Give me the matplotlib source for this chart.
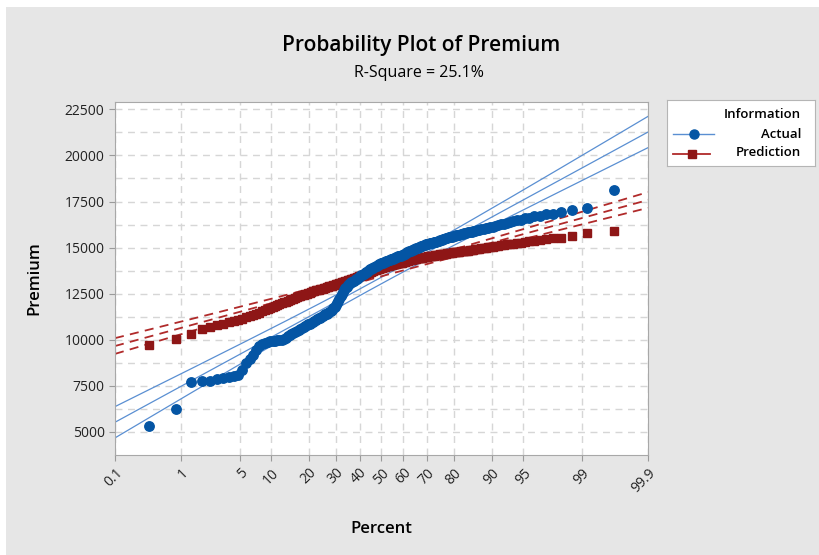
"""Normal probability plot of Premium: actual vs prediction."""
from statistics import NormalDist

import numpy as np
import matplotlib
matplotlib.use("Agg")
import matplotlib.pyplot as plt
from matplotlib.patches import Rectangle

# data, sorted ascending (200 points per series)
actual = [
    5340, 6270, 7720, 7740, 7770, 7870, 7920, 7980, 8030, 8080,
    8380, 8720, 8950, 9170, 9420, 9650, 9760, 9850, 9890, 9920,
    9940, 9950, 9970, 9980, 10000, 10060, 10120, 10180, 10240, 10300,
    10350, 10410, 10460, 10520, 10570, 10620, 10680, 10730, 10780, 10830,
    10880, 10930, 10980, 11030, 11080, 11120, 11160, 11200, 11240, 11280,
    11330, 11380, 11420, 11470, 11520, 11570, 11630, 11700, 11790, 11880,
    11990, 12100, 12220, 12350, 12480, 12600, 12700, 12800, 12880, 12950,
    13010, 13070, 13120, 13160, 13200, 13240, 13280, 13320, 13360, 13400,
    13440, 13490, 13530, 13580, 13620, 13660, 13700, 13740, 13780, 13820,
    13850, 13890, 13920, 13960, 13990, 14020, 14050, 14090, 14120, 14150,
    14170, 14190, 14220, 14240, 14260, 14290, 14310, 14330, 14360, 14380,
    14400, 14430, 14450, 14480, 14500, 14520, 14550, 14570, 14600, 14620,
    14650, 14680, 14710, 14740, 14770, 14800, 14830, 14860, 14890, 14920,
    14950, 14970, 15000, 15020, 15050, 15070, 15100, 15120, 15150, 15170,
    15190, 15210, 15230, 15250, 15270, 15290, 15310, 15330, 15350, 15370,
    15400, 15420, 15450, 15470, 15500, 15520, 15550, 15570, 15600, 15620,
    15640, 15660, 15690, 15710, 15730, 15760, 15780, 15800, 15830, 15850,
    15870, 15900, 15920, 15950, 15970, 16000, 16020, 16050, 16070, 16100,
    16140, 16180, 16220, 16260, 16300, 16340, 16390, 16430, 16480, 16520,
    16580, 16630, 16690, 16740, 16800, 16850, 16940, 17060, 17150, 18150,
]
prediction = [
    9720, 10030, 10290, 10560, 10690, 10780, 10860, 10940, 11010, 11080,
    11150, 11220, 11290, 11360, 11420, 11480, 11540, 11600, 11670, 11740,
    11790, 11840, 11890, 11940, 11990, 12030, 12070, 12120, 12160, 12200,
    12240, 12280, 12320, 12350, 12390, 12420, 12450, 12480, 12500, 12530,
    12560, 12590, 12620, 12650, 12680, 12700, 12720, 12740, 12760, 12780,
    12800, 12830, 12850, 12880, 12900, 12920, 12940, 12960, 12980, 13000,
    13020, 13040, 13070, 13090, 13110, 13130, 13160, 13180, 13210, 13230,
    13250, 13270, 13290, 13310, 13330, 13350, 13370, 13400, 13420, 13440,
    13460, 13480, 13500, 13530, 13550, 13570, 13600, 13630, 13650, 13680,
    13700, 13730, 13750, 13780, 13800, 13820, 13840, 13860, 13880, 13900,
    13920, 13940, 13960, 13970, 13990, 14010, 14030, 14040, 14060, 14080,
    14090, 14100, 14120, 14130, 14140, 14150, 14160, 14180, 14190, 14210,
    14230, 14240, 14260, 14280, 14300, 14310, 14330, 14350, 14360, 14380,
    14390, 14400, 14420, 14430, 14440, 14450, 14460, 14480, 14490, 14500,
    14510, 14520, 14540, 14550, 14560, 14570, 14580, 14600, 14610, 14620,
    14630, 14640, 14660, 14670, 14680, 14690, 14700, 14720, 14730, 14740,
    14750, 14760, 14770, 14780, 14790, 14800, 14810, 14830, 14840, 14850,
    14870, 14890, 14910, 14930, 14950, 14970, 14990, 15000, 15020, 15040,
    15060, 15080, 15110, 15130, 15150, 15170, 15200, 15220, 15250, 15270,
    15310, 15340, 15380, 15420, 15460, 15500, 15540, 15630, 15800, 15900,
]
percent_ticks = [0.1, 1, 5, 10, 20, 30, 40, 50, 60, 70, 80, 90, 95, 99, 99.9]
percent_labels = ["0.1", "1", "5", "10", "20", "30", "40", "50", "60", "70",
                  "80", "90", "95", "99", "99.9"]
premium_ticks = [5000, 7500, 10000, 12500, 15000, 17500, 20000, 22500]
series_names = ["Actual", "Prediction"]

BLUE = "#0455a4"
BLUE_LINE = "#5a8fd2"
RED = "#8e1616"
RED_LINE = "#b02a2a"
BG = "#e6e6e6"

nd = NormalDist()


def pct_to_z(p):
    arr = np.asarray(p, dtype=float)
    flat = np.clip(arr.ravel() / 100.0, 1e-9, 1 - 1e-9)
    return np.array([nd.inv_cdf(v) for v in flat]).reshape(arr.shape)


def z_to_pct(z):
    arr = np.asarray(z, dtype=float)
    return np.array([nd.cdf(v) * 100.0 for v in arr.ravel()]).reshape(arr.shape)


def plot_positions(n):
    # median ranks (Benard)
    return np.array([(i - 0.3) / (n + 0.4) * 100 for i in range(1, n + 1)])


plt.rcParams["font.family"] = ["Open Sans", "DejaVu Sans"]
fig = plt.figure(figsize=(8.2, 5.55), dpi=100)
fig.patch.set_facecolor("white")
fig.add_artist(Rectangle((6 / 820, 0), 1, 1 - 7 / 555, transform=fig.transFigure,
                         facecolor=BG, edgecolor="none", zorder=-5))

ax = fig.add_axes([115 / 820, 1 - 455 / 555, 533 / 820, 353 / 555])
ax.set_xscale("function", functions=(pct_to_z, z_to_pct))
ax.set_xlim(0.1, 99.9)
ax.set_ylim(3750, 22900)

# fitted lines with 95% confidence bands
zline = np.linspace(pct_to_z(0.1), pct_to_z(99.9), 200)
pline = z_to_pct(zline)
for data, col, ls in [(actual, BLUE_LINE, "-"), (prediction, RED_LINE, (0, (5, 3.5)))]:
    d = np.array(data, dtype=float)
    mu, sd, n = d.mean(), d.std(), len(d)
    fit = mu + zline * sd
    half = 1.96 * sd / np.sqrt(n) * np.sqrt(1 + zline ** 2 / 2)
    lw = 0.9 if ls == "-" else 1.3
    for yy in (fit - half, fit, fit + half):
        ax.plot(pline, yy, color=col, lw=lw, linestyle=ls, zorder=2)

ax.plot(plot_positions(len(prediction)), prediction, "s", color=RED, ms=6.4,
        mec=RED, zorder=3)
ax.plot(plot_positions(len(actual)), actual, "o", color=BLUE, ms=6.8,
        mec=BLUE, zorder=4)

ax.set_xticks(percent_ticks)
ax.set_xticklabels(percent_labels, rotation=45, ha="right", rotation_mode="anchor")
ax.xaxis.set_minor_locator(matplotlib.ticker.NullLocator())
ax.set_yticks(premium_ticks)
ax.set_yticks(np.arange(6250, 22500, 2500), minor=True)
ax.tick_params(axis="y", which="minor", length=0)
ax.tick_params(axis="both", which="major", length=4, color="#9a9a9a",
               labelsize=10, labelcolor="#222222")
ax.grid(True, which="both", axis="y", color="#d6d6d6", lw=1, linestyle=(0, (5, 4)))
ax.grid(True, which="major", axis="x", color="#d6d6d6", lw=1, linestyle=(0, (5, 4)))
ax.set_axisbelow(True)
for s in ax.spines.values():
    s.set_color("#a8a8a8")

ax.set_xlabel("Percent", fontsize=12, fontweight="semibold")
ax.set_ylabel("Premium", fontsize=12, fontweight="semibold")
ax.xaxis.set_label_coords(0.5, -0.187)
ax.yaxis.set_label_coords(-0.137, 0.5)

fig.text(421 / 820, 1 - 45 / 555, "Probability Plot of Premium", ha="center",
         va="center", fontsize=15, fontweight="semibold")
fig.text(419 / 820, 1 - 73 / 555, "R-Square = 25.1%", ha="center", va="center",
         fontsize=11.5)

# legend box drawn by hand so the labels sit right-aligned like the original
lax = fig.add_axes([667 / 820, 1 - 166 / 555, 148 / 820, 66 / 555])
lax.set_xlim(667, 815)
lax.set_ylim(166, 100)
lax.set_xticks([])
lax.set_yticks([])
for s in lax.spines.values():
    s.set_color("#b5b5b5")
lax.text(801, 114, "Information", ha="right", va="center", fontsize=9.5,
         fontweight="semibold")
lax.plot([673, 714], [134, 134], color=BLUE_LINE, lw=1)
lax.plot([694], [134], "o", color=BLUE, ms=6.5)
lax.text(801, 134, series_names[0], ha="right", va="center", fontsize=9.5,
         fontweight="semibold")
lax.plot([673, 710], [154, 154], color=RED_LINE, lw=1.3)
lax.plot([692], [154], "s", color=RED, ms=6.2)
lax.text(801, 153, series_names[1], ha="right", va="center", fontsize=9.5,
         fontweight="semibold")

fig.savefig("out.png", dpi=100)
